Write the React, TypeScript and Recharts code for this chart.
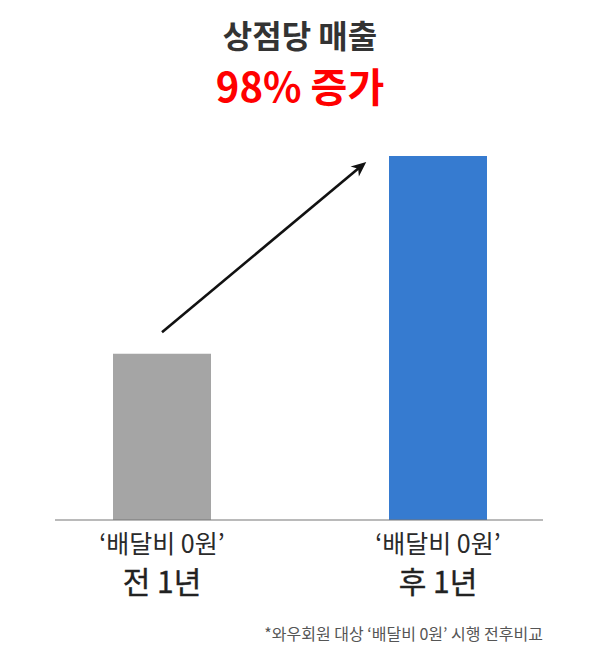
import { BarChart, Bar, XAxis, YAxis, Cell, ReferenceLine } from "recharts";

const CATEGORIES = ["전 1년", "후 1년"];
const LABEL_TOP = "‘배달비 0원’";
const SALES = [100, 219];
const BAR_COLORS = ["#a5a5a5", "#367bd0"];
const ARROW_Y = [113, 251.5];

const data = CATEGORIES.map((name, i) => ({ name, sales: SALES[i] }));

const FONT = '"Noto Sans CJK KR", "Noto Sans", sans-serif';

function Tick(props: any) {
  const { x, y, payload } = props;
  return (
    <g>
      <text
        x={x}
        y={y + 25}
        textAnchor="middle"
        fontSize={25}
        fill="#2a2a2a"
        fontFamily={FONT}
      >
        {LABEL_TOP}
      </text>
      <text
        x={x}
        y={y + 65}
        textAnchor="middle"
        fontSize={30}
        fill="#222"
        stroke="#222"
        strokeWidth={0.35}
        fontFamily={FONT}
      >
        {payload.value}
      </text>
    </g>
  );
}

function Arrow(props: any) {
  const { x1, y1, x2, y2 } = props;
  const t = 0.74;
  const ex = x1 + (x2 - x1) * t;
  const ey = y1 + (y2 - y1) * t;
  const len = Math.hypot(ex - x1, ey - y1);
  const ux = (ex - x1) / len;
  const uy = (ey - y1) / len;
  const hl = 15;
  const hw = 6.5;
  const bx = ex - ux * hl;
  const by = ey - uy * hl;
  const head = `${ex},${ey} ${bx - uy * hw},${by + ux * hw} ${ex - ux * hl * 0.7},${ey - uy * hl * 0.7} ${bx + uy * hw},${by - ux * hw}`;
  return (
    <g>
      <line x1={x1} y1={y1} x2={ex - ux * 8} y2={ey - uy * 8} stroke="#111" strokeWidth={2.6} />
      <polygon points={head} fill="#111" />
    </g>
  );
}

export default function App() {
  return (
    <div style={{ position: "relative", width: 584, height: 640, fontFamily: FONT }}>
      <div
        style={{
          position: "absolute",
          top: 6,
          left: 0,
          width: 584,
          textAlign: "center",
          fontSize: 32,
          fontWeight: 700,
          color: "#333",
          lineHeight: "40px",
        }}
      >
        상점당 매출
      </div>
      <div
        style={{
          position: "absolute",
          top: 52,
          left: 0,
          width: 584,
          textAlign: "center",
          fontSize: 40,
          fontWeight: 700,
          color: "#ff0000",
          lineHeight: "50px",
        }}
      >
        98% 증가
      </div>
      <BarChart
        width={584}
        height={640}
        data={data}
        margin={{ top: 80, right: 49, left: 47, bottom: 48 }}
      >
        <XAxis
          dataKey="name"
          height={80}
          padding={{ left: -31, right: -33 }}
          axisLine={{ stroke: "#777", strokeWidth: 1.2 }}
          tickLine={false}
          tick={<Tick />}
          interval={0}
        />
        <YAxis hide domain={[0, 260]} />
        <Bar dataKey="sales" barSize={98} isAnimationActive={false}>
          {data.map((d, i) => (
            <Cell key={d.name} fill={BAR_COLORS[i]} />
          ))}
        </Bar>
        <ReferenceLine
          segment={[
            { x: CATEGORIES[0], y: ARROW_Y[0] },
            { x: CATEGORIES[1], y: ARROW_Y[1] },
          ]}
          ifOverflow="visible"
          shape={<Arrow />}
        />
      </BarChart>
      <div
        style={{
          position: "absolute",
          top: 613,
          right: 49,
          fontSize: 16,
          color: "#555",
          whiteSpace: "nowrap",
        }}
      >
        *와우회원 대상 ‘배달비 0원’ 시행 전후비교
      </div>
    </div>
  );
}
